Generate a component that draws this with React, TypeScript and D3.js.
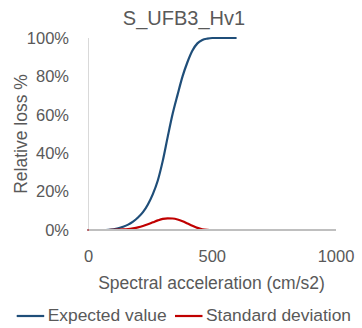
import React from "react";
import * as d3 from "d3";

const title = "S_UFB3_Hv1";
const xLabel = "Spectral acceleration (cm/s2)";
const yLabel = "Relative loss %";
const seriesNames = ["Expected value", "Standard deviation"];
const xTicks = [0, 500, 1000];
const yTicks = [0, 0.2, 0.4, 0.6, 0.8, 1.0];

const accel = [0, 20, 40, 60, 80, 100, 120, 140, 160, 180, 200, 220, 240, 260, 280, 300, 320, 340, 360, 380, 400, 420, 440, 460, 480, 500, 520, 540, 560, 580, 595];
const expectedValue = [0, 0, 0, 0, 0.001, 0.004, 0.009, 0.017, 0.028, 0.044, 0.065, 0.093, 0.133, 0.187, 0.258, 0.36, 0.485, 0.605, 0.705, 0.8, 0.875, 0.935, 0.972, 0.99, 0.997, 1, 1, 1, 1, 1, 1];
const stdDeviation = [0, 0, 0, 0, 0, 0.001, 0.002, 0.003, 0.005, 0.009, 0.014, 0.021, 0.03, 0.04, 0.05, 0.058, 0.061, 0.06, 0.055, 0.046, 0.034, 0.022, 0.011, 0.004, 0.001, 0, 0, 0, 0, 0, 0];

const colors = ["#1F4E79", "#C00000"];
const textColor = "#595959";
const font = "'Liberation Sans', Arial, sans-serif";

export default function App() {
  const W = 362, H = 328;
  const x = d3.scaleLinear().domain([0, 1000]).range([88.5, 336]);
  const y = d3.scaleLinear().domain([0, 1]).range([230, 38]);
  const line = d3
    .line<number>()
    .x((_, i) => x(accel[i]))
    .y((d) => y(d))
    .curve(d3.curveMonotoneX);
  const series = [expectedValue, stdDeviation];
  const pct = d3.format(".0%");

  return (
    <svg width={W} height={H} style={{ position: "absolute", left: 0, top: 0, background: "#fff" }} fontFamily={font}>
      <rect x={0} y={0} width={W} height={H} fill="#fff" />
      <text x={184} y={25} textAnchor="middle" fontSize={20} fill={textColor}>{title}</text>
      <line x1={x(0)} x2={x(0)} y1={y(1)} y2={y(0)} stroke="#D9D9D9" strokeWidth={1} />
      {yTicks.map((t) => (
        <text key={t} x={69} y={y(t)} dy="0.35em" textAnchor="end" fontSize={16.5} fill={textColor}>{pct(t)}</text>
      ))}
      {xTicks.map((t) => (
        <text key={t} x={x(t)} y={262} textAnchor="middle" fontSize={16.5} fill={textColor}>{t}</text>
      ))}
      <text x={211.5} y={289} textAnchor="middle" fontSize={17.5} fill={textColor}>{xLabel}</text>
      <text transform={`translate(26.5,${(y(0) + y(1)) / 2}) rotate(-90)`} textAnchor="middle" fontSize={17.5} fill={textColor}>{yLabel}</text>
      {series.map((s, i) => (
        <path key={i} d={line(s) || ""} fill="none" stroke={colors[i]} strokeWidth={2.2} strokeLinejoin="round" strokeLinecap="round" />
      ))}
      <line x1={x(0)} x2={x(1000)} y1={y(0)} y2={y(0)} stroke="#BFBFBF" strokeWidth={2} />
      {series.map((_, i) => {
        const lx = i === 0 ? 16.7 : 175;
        return (
          <g key={i}>
            <line x1={lx} x2={lx + 27.5} y1={316} y2={316} stroke={colors[i]} strokeWidth={2.2} />
            <text x={lx + 31} y={321} fontSize={17.4} fill={textColor}>{seriesNames[i]}</text>
          </g>
        );
      })}
    </svg>
  );
}
